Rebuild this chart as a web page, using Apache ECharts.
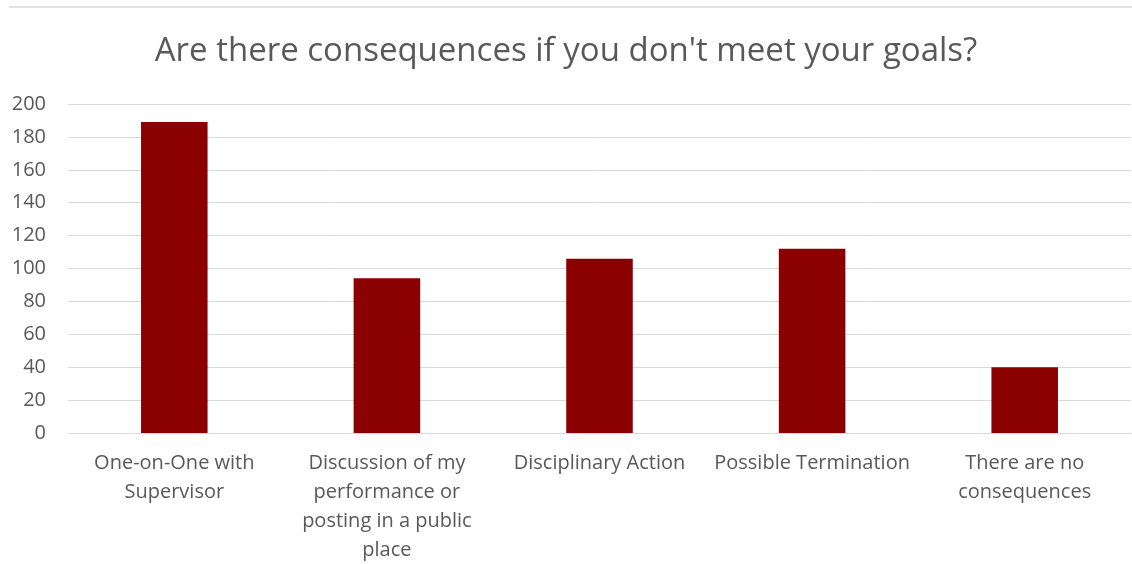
<!DOCTYPE html>
<html>
<head>
<meta charset="utf-8">
<script src="https://cdn.jsdelivr.net/npm/echarts@6/dist/echarts.min.js"></script>
<style>html,body{margin:0;padding:0;background:#fff;}#c{width:1132px;height:564px;}</style>
</head>
<body>
<div id="c"></div>
<script>
var titleText = "Are there consequences if you don't meet your goals?";
var categories = [
  "One-on-One with\nSupervisor",
  "Discussion of my\nperformance or\nposting in a public\nplace",
  "Disciplinary Action",
  "Possible Termination",
  "There are no\nconsequences"
];
var values = [189, 94, 106, 112, 40];
var yMin = 0, yMax = 200, yStep = 20;

var chart = echarts.init(document.getElementById('c'));
chart.setOption({
  animation: false,
  backgroundColor: '#fff',
  graphic: [{
    type: 'line',
    shape: { x1: 9, y1: 7, x2: 1132, y2: 7 },
    style: { stroke: '#d9d9d9', lineWidth: 1.5 }
  }],
  title: {
    text: titleText,
    left: 'center',
    top: 30,
    textStyle: { fontFamily: 'Open Sans', fontWeight: 'normal', fontSize: 33, color: '#595959' }
  },
  grid: { left: 68, right: 1, top: 104, bottom: 131, containLabel: false, outerBoundsMode: 'none' },
  xAxis: {
    type: 'category',
    data: categories,
    axisLine: { lineStyle: { color: '#d9d9d9', width: 1 } },
    axisTick: { show: false },
    axisLabel: {
      interval: 0,
      margin: 16,
      fontFamily: 'Open Sans',
      fontSize: 20,
      lineHeight: 29,
      color: '#595959',
      verticalAlign: 'top'
    }
  },
  yAxis: {
    type: 'value',
    min: yMin, max: yMax, interval: yStep,
    axisLine: { show: false },
    axisTick: { show: false },
    splitLine: { lineStyle: { color: '#d9d9d9', width: 1 } },
    axisLabel: { fontFamily: 'Open Sans', fontSize: 20, color: '#595959', margin: 22 }
  },
  series: [{
    type: 'bar',
    data: values,
    barWidth: '31.3%',
    itemStyle: { color: '#8b0000' }
  }]
});
</script>
</body>
</html>
